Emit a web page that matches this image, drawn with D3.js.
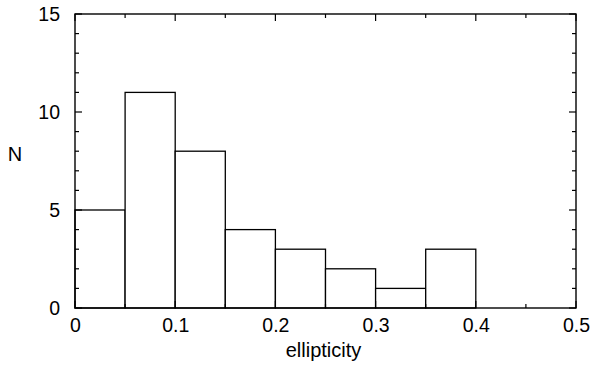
<!DOCTYPE html>
<html><head><meta charset="utf-8">
<script src="https://cdn.jsdelivr.net/npm/d3@7"></script>
<style>body{margin:0;background:#fff}svg{display:block}text{font-family:"Liberation Sans",Arial,sans-serif;fill:#000}</style>
</head><body>
<svg id="c" width="592" height="374"></svg>
<script>
const binStarts = [0, 0.05, 0.1, 0.15, 0.2, 0.25, 0.3, 0.35, 0.4];
const binWidth = 0.05;
const counts = [5, 11, 8, 4, 3, 2, 1, 3, 0];
const xTicks = [0, 0.1, 0.2, 0.3, 0.4, 0.5];
const yTicks = [0, 5, 10, 15];
const xLabel = "ellipticity";
const yLabel = "N";

const svg = d3.select("#c");
const L = 75, R = 576, T = 14, B = 308;
const x = d3.scaleLinear().domain([0, 0.5]).range([L, R]);
const y = d3.scaleLinear().domain([0, 15]).range([B, T]);

// bars
svg.append("g").selectAll("rect").data(binStarts).join("rect")
  .attr("x", (d) => x(d)).attr("width", (d) => x(d + binWidth) - x(d))
  .attr("y", (d, i) => y(counts[i])).attr("height", (d, i) => y(0) - y(counts[i]))
  .attr("fill", "#fff").attr("stroke", "#000").attr("stroke-width", 1.3);

// minor/major ticks
const xMinor = d3.range(0, 0.5001, 0.05);
const yMinor = d3.range(0, 15.001, 1);
const tk = svg.append("g").attr("stroke", "#000").attr("stroke-width", 1.2);
xMinor.forEach(v => {
  const major = Math.abs(Math.round(v * 10) - v * 10) < 1e-6;
  const len = major ? 7 : 4;
  tk.append("line").attr("x1", x(v)).attr("x2", x(v)).attr("y1", T).attr("y2", T + len);
  tk.append("line").attr("x1", x(v)).attr("x2", x(v)).attr("y1", B).attr("y2", B - len);
});
yMinor.forEach(v => {
  const major = v % 5 === 0;
  const len = major ? 7 : 4;
  tk.append("line").attr("x1", L).attr("x2", L + len).attr("y1", y(v)).attr("y2", y(v));
  tk.append("line").attr("x1", R).attr("x2", R - len).attr("y1", y(v)).attr("y2", y(v));
});

// frame
svg.append("rect").attr("x", L).attr("y", T).attr("width", R - L).attr("height", B - T)
  .attr("fill", "none").attr("stroke", "#000").attr("stroke-width", 1.4);

// axes labels via d3 axes (tick lines hidden)
const xa = svg.append("g").attr("transform", `translate(0,${B})`)
  .call(d3.axisBottom(x).tickValues(xTicks).tickFormat(d3.format("")).tickSize(0).tickPadding(10));
const ya = svg.append("g").attr("transform", `translate(${L},0)`)
  .call(d3.axisLeft(y).tickValues(yTicks).tickSize(0).tickPadding(15));
[xa, ya].forEach(a => {
  a.select(".domain").remove();
  a.selectAll("text").attr("font-family", '"Liberation Sans",Arial,sans-serif').attr("font-size", 19.5).attr("fill", "#000");
});

svg.append("text").attr("x", (L + R) / 2 - 2).attr("y", 357).attr("text-anchor", "middle")
  .attr("font-size", 20).text(xLabel);
svg.append("text").attr("x", 15).attr("y", 161).attr("text-anchor", "middle")
  .attr("font-size", 20).text(yLabel);
</script>
</body></html>
